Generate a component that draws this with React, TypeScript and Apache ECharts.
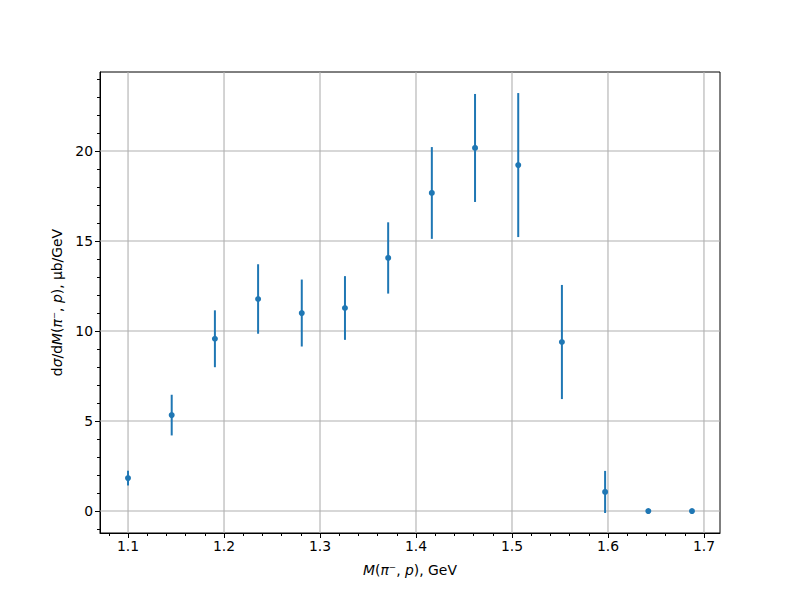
import React, { useEffect, useRef } from "react";
import * as echarts from "echarts";

const X_VALUES = [1.1, 1.1455, 1.1905, 1.2355, 1.281, 1.326, 1.371, 1.4165, 1.4615, 1.5065, 1.552, 1.597, 1.642, 1.6875];
const Y_VALUES = [1.83, 5.33, 9.57, 11.78, 11.0, 11.28, 14.06, 17.67, 20.17, 19.22, 9.39, 1.06, 0, 0];
const Y_ERRORS = [0.41, 1.13, 1.58, 1.93, 1.86, 1.77, 1.98, 2.55, 3.0, 4.0, 3.17, 1.17, 0, 0];

const X_TICKS = [1.1, 1.2, 1.3, 1.4, 1.5, 1.6, 1.7];
const X_MINOR_TICKS = [1.08, 1.12, 1.14, 1.16, 1.18, 1.22, 1.24, 1.26, 1.28, 1.32, 1.34, 1.36, 1.38, 1.42, 1.44, 1.46, 1.48, 1.52, 1.54, 1.56, 1.58, 1.62, 1.64, 1.66, 1.68];
const Y_TICKS = [0, 5, 10, 15, 20];
const Y_MINOR_TICKS = [-1, 1, 2, 3, 4, 6, 7, 8, 9, 11, 12, 13, 14, 16, 17, 18, 19, 21, 22, 23, 24];

const X_MIN = 1.0708;
const X_MAX = 1.7167;
const Y_MIN = -1.22;
const Y_MAX = 24.39;

const FONT = "DejaVu Sans";
const FS = 13.9;
const COLOR = "#1f77b4";

export default function App() {
  const ref = useRef<HTMLDivElement>(null);
  useEffect(() => {
    if (!ref.current) return;
    const chart = echarts.init(ref.current, null, { renderer: "svg" });
    const rich = { i: { fontStyle: "italic", fontSize: FS, fontFamily: FONT, color: "#000" } };
    const baseX = {
      type: "value",
      min: X_MIN,
      max: X_MAX,
      position: "bottom",
      splitLine: { show: false },
      gridIndex: 0,
    };
    const baseY = {
      type: "value",
      min: Y_MIN,
      max: Y_MAX,
      position: "left",
      splitLine: { show: false },
      gridIndex: 0,
    };
    const option: any = {
      animation: false,
      backgroundColor: "#fff",
      grid: {
        left: 100,
        right: 80,
        top: 72,
        bottom: 67,
        show: true,
        borderColor: "#000",
        borderWidth: 1,
        backgroundColor: "transparent",
      },
      xAxis: [
        {
          ...baseX,
          axisLine: { show: true, onZero: false, lineStyle: { color: "#000", width: 1 } },
          axisTick: { show: true, customValues: X_TICKS, length: 5, lineStyle: { color: "#000", width: 1 } },
          axisLabel: {
            show: true,
            customValues: X_TICKS,
            formatter: (v: number) => v.toFixed(1),
            color: "#000",
            fontSize: FS,
            fontFamily: FONT,
            margin: 6,
          },
          name: "{i|M}({i|\u03c0\u207b}, {i|p}), GeV",
          nameLocation: "middle",
          nameGap: 30,
          nameTextStyle: { fontSize: FS, fontFamily: FONT, color: "#000", rich },
        },
        {
          ...baseX,
          axisLine: { show: false, onZero: false },
          axisTick: { show: true, customValues: X_MINOR_TICKS, length: 3, lineStyle: { color: "#000", width: 1 } },
          axisLabel: { show: false },
        },
      ],
      yAxis: [
        {
          ...baseY,
          axisLine: { show: true, onZero: false, lineStyle: { color: "#000", width: 1 } },
          axisTick: { show: true, customValues: Y_TICKS, length: 5, lineStyle: { color: "#000", width: 1 } },
          axisLabel: {
            show: true,
            customValues: Y_TICKS,
            formatter: (v: number) => String(v),
            color: "#000",
            fontSize: FS,
            fontFamily: FONT,
            margin: 7,
          },
          name: "d{i|\u03c3}/d{i|M}({i|\u03c0\u207b}, {i|p}), \u03bcb/GeV",
          nameLocation: "middle",
          nameGap: 36,
          nameTextStyle: { fontSize: FS, fontFamily: FONT, color: "#000", rich },
        },
        {
          ...baseY,
          axisLine: { show: false, onZero: false },
          axisTick: { show: true, customValues: Y_MINOR_TICKS, length: 3, lineStyle: { color: "#000", width: 1 } },
          axisLabel: { show: false },
        },
      ],
      series: [
        {
          type: "custom",
          xAxisIndex: 0,
          yAxisIndex: 0,
          silent: true,
          z: 1,
          data: X_TICKS.map((v) => [v]),
          renderItem: (params: any, api: any) => {
            const v = api.value(0);
            const a = api.coord([v, Y_MIN]);
            const b = api.coord([v, Y_MAX]);
            return {
              type: "line",
              shape: { x1: a[0], y1: a[1], x2: b[0], y2: b[1] },
              style: { stroke: "#b0b0b0", lineWidth: 1.1 },
            };
          },
        },
        {
          type: "custom",
          xAxisIndex: 0,
          yAxisIndex: 0,
          silent: true,
          z: 1,
          data: Y_TICKS.map((v) => [v]),
          renderItem: (params: any, api: any) => {
            const v = api.value(0);
            const a = api.coord([X_MIN, v]);
            const b = api.coord([X_MAX, v]);
            return {
              type: "line",
              shape: { x1: a[0], y1: a[1], x2: b[0], y2: b[1] },
              style: { stroke: "#b0b0b0", lineWidth: 1.1 },
            };
          },
        },
        {
          type: "custom",
          xAxisIndex: 0,
          yAxisIndex: 0,
          z: 2,
          data: X_VALUES.map((x, i) => [x, Y_VALUES[i] - Y_ERRORS[i], Y_VALUES[i] + Y_ERRORS[i]]),
          renderItem: (params: any, api: any) => {
            const x = api.value(0);
            const a = api.coord([x, api.value(1)]);
            const b = api.coord([x, api.value(2)]);
            return {
              type: "line",
              shape: { x1: a[0], y1: a[1], x2: b[0], y2: b[1] },
              style: { stroke: COLOR, lineWidth: 2 },
            };
          },
        },
        {
          type: "scatter",
          xAxisIndex: 0,
          yAxisIndex: 0,
          z: 3,
          symbol: "circle",
          symbolSize: 6,
          itemStyle: { color: COLOR, opacity: 1 },
          data: X_VALUES.map((x, i) => [x, Y_VALUES[i]]),
        },
      ],
    };
    chart.setOption(option);
    return () => chart.dispose();
  }, []);
  return (
    <div
      ref={ref}
      style={{ position: "fixed", left: 0, top: 0, width: 800, height: 600, background: "#fff" }}
    />
  );
}
